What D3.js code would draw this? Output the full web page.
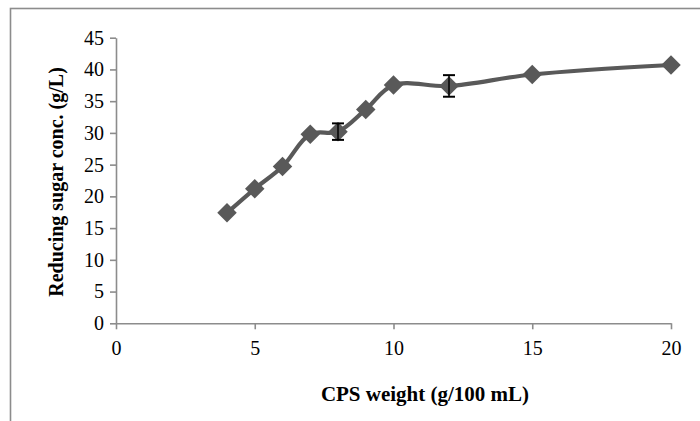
<!DOCTYPE html>
<html>
<head>
<meta charset="utf-8">
<script src="https://cdn.jsdelivr.net/npm/d3@7/dist/d3.min.js"></script>
<style>
html,body{margin:0;padding:0;background:#fff;}
svg{display:block;}
svg text{font-family:'Liberation Serif','Times New Roman',serif;}
</style>
</head>
<body>
<svg id="chart" width="700" height="421"></svg>
<script>
const xValues = [4, 5, 6, 7, 8, 9, 10, 12, 15, 20];
const yValues = [17.4, 21.2, 24.7, 29.8, 30.2, 33.7, 37.55, 37.4, 39.2, 40.7];
const yErrors = [0, 0, 0, 0, 1.3, 0, 0, 1.7, 0, 0];
const xTicks = [0, 5, 10, 15, 20];
const yTicks = [0, 5, 10, 15, 20, 25, 30, 35, 40, 45];
const xTitle = "CPS weight (g/100 mL)";
const yTitle = "Reducing sugar conc. (g/L)";

const svg = d3.select("#chart");
const font = "'Liberation Serif','Times New Roman',serif";

// outer frame
svg.append("rect").attr("x", 10.5).attr("y", 8.5).attr("width", 760).attr("height", 480)
  .attr("fill", "none").attr("stroke", "#8c8c8c").attr("stroke-width", 1.6);

const x = d3.scaleLinear().domain([0, 20]).range([116, 671]);
const y = d3.scaleLinear().domain([0, 45]).range([323.3, 37.7]);

const axisColor = "#8c8c8c";

// y axis
const yAxis = svg.append("g").attr("transform", "translate(116,0)")
  .call(d3.axisLeft(y).tickValues(yTicks).tickSize(6).tickPadding(6).tickSizeOuter(0));
// x axis
const xAxis = svg.append("g").attr("transform", "translate(0,323.3)")
  .call(d3.axisBottom(x).tickValues(xTicks).tickSize(6).tickPadding(12).tickSizeOuter(0));

[yAxis, xAxis].forEach(a => {
  a.attr("font-family", null).attr("font-size", null);
  a.selectAll("path.domain").attr("stroke", axisColor).attr("stroke-width", 1.6);
  a.selectAll(".tick line").attr("stroke", axisColor).attr("stroke-width", 1.6);
  a.selectAll(".tick text").style("font-family", font).style("font-size", "20px").attr("fill", "#000");
});

// line
const pts = xValues.map((v, i) => [v, yValues[i], yErrors[i]]);
const line = d3.line().x(d => x(d[0])).y(d => y(d[1])).curve(d3.curveCatmullRom.alpha(0.5));
svg.append("path").datum(pts).attr("d", line).attr("fill", "none")
  .attr("stroke", "#595959").attr("stroke-width", 4.2).attr("stroke-linejoin", "round");

// markers
svg.selectAll("path.mk").data(pts).enter().append("path").attr("class", "mk")
  .attr("d", d3.symbol().type(d3.symbolSquare).size(190))
  .attr("transform", d => `translate(${x(d[0])},${y(d[1])}) rotate(45)`)
  .attr("fill", "#595959");

// error bars
const eb = svg.selectAll("g.eb").data(pts.filter(d => d[2] > 0)).enter().append("g").attr("class", "eb");
eb.append("line").attr("x1", d => x(d[0])).attr("x2", d => x(d[0]))
  .attr("y1", d => y(d[1] + d[2])).attr("y2", d => y(d[1] - d[2]))
  .attr("stroke", "#000").attr("stroke-width", 1.5);
eb.append("line").attr("x1", d => x(d[0]) - 6).attr("x2", d => x(d[0]) + 6)
  .attr("y1", d => y(d[1] + d[2])).attr("y2", d => y(d[1] + d[2]))
  .attr("stroke", "#000").attr("stroke-width", 2);
eb.append("line").attr("x1", d => x(d[0]) - 6).attr("x2", d => x(d[0]) + 6)
  .attr("y1", d => y(d[1] - d[2])).attr("y2", d => y(d[1] - d[2]))
  .attr("stroke", "#000").attr("stroke-width", 2);

// titles
svg.append("text").attr("x", 425).attr("y", 401).attr("text-anchor", "middle")
  .style("font-family", font).style("font-size", "21px").attr("font-weight", "bold").text(xTitle);
svg.append("text").attr("transform", "translate(63,182) rotate(-90)").attr("text-anchor", "middle")
  .style("font-family", font).style("font-size", "20px").attr("font-weight", "bold").text(yTitle);
</script>
</body>
</html>
